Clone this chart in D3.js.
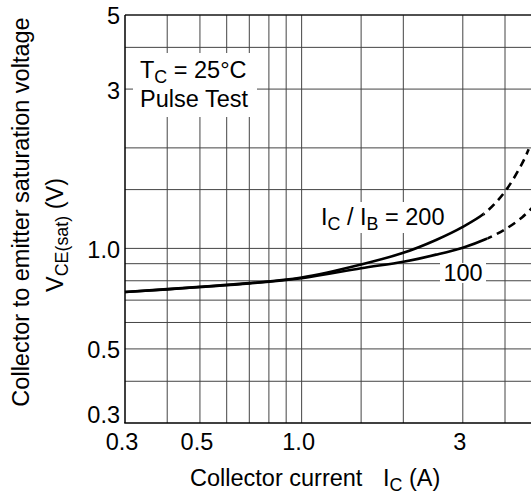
<!DOCTYPE html>
<html><head><meta charset="utf-8">
<script src="https://cdn.jsdelivr.net/npm/d3@7"></script>
<style>
html,body{margin:0;padding:0;background:#fff;overflow:hidden;}
text{font-family:"Liberation Sans",Arial,Helvetica,sans-serif;fill:#000;white-space:pre;}
</style></head>
<body><svg id="c" width="531" height="499"></svg>
<script>
// ---- data ----
const xDomain = [0.3, 5];
const yDomain = [0.3, 5];
const xGrid = [0.4, 0.5, 0.6, 0.7, 0.8, 0.9, 1.0, 1.5, 2, 3, 4, 5];
const yGrid = [0.4, 0.5, 0.6, 0.7, 0.8, 0.9, 1.0, 1.5, 2, 3, 4, 5];
const xTickVals = [0.3, 0.5, 1.0, 3];
const xTickLabels = ["0.3", "0.5", "1.0", "3"];
const yTickVals = [5, 3, 1.0, 0.5, 0.3];
const yTickLabels = ["5", "3", "1.0", "0.5", "0.3"];
// IC/IB = 200 (solid up to splitIC, dashed beyond)
const ic200 = [0.3, 0.4, 0.5, 0.7, 1.0, 1.5, 2.0, 2.5, 3.0, 3.5, 4.0, 4.5, 4.7];
const v200 = [0.74, 0.755, 0.767, 0.787, 0.818, 0.895, 0.97, 1.06, 1.16, 1.28, 1.48, 1.80, 1.98];
// IC/IB = 100
const ic100 = [0.3, 0.4, 0.5, 0.7, 1.0, 1.5, 2.0, 2.5, 3.0, 3.5, 4.0, 4.5, 4.8];
const v100 = [0.74, 0.754, 0.766, 0.785, 0.814, 0.872, 0.912, 0.958, 1.005, 1.065, 1.14, 1.24, 1.32];
const splitIC = [3.45, 3.55];

// ---- scales ----
const L = 125, B = 423, T = 15;
const pxPerDec = 337.8;
const x = d3.scaleLog().domain(xDomain).range([L, L + pxPerDec * Math.log10(xDomain[1] / xDomain[0])]);
const y = d3.scaleLog().domain(yDomain).range([B, T]);

const svg = d3.select("#c");
const defs = svg.append("defs");
const g = svg.append("g");

// grid
g.selectAll(".vg").data(xGrid).enter().append("line")
  .attr("x1", d => x(d)).attr("x2", d => x(d)).attr("y1", y(yDomain[0])).attr("y2", y(yDomain[1]))
  .attr("stroke", "#444").attr("stroke-width", 1);
g.selectAll(".hg").data(yGrid).enter().append("line")
  .attr("x1", x(xDomain[0])).attr("x2", x(xDomain[1])).attr("y1", d => y(d)).attr("y2", d => y(d))
  .attr("stroke", "#444").attr("stroke-width", 1);

const fs = 23.5;
const sfs = fs * 0.76;

// label backgrounds (white boxes that interrupt grid)
function bg(x0, y0, w, h) {
  g.append("rect").attr("x", x0).attr("y", y0).attr("width", w).attr("height", h).attr("fill", "#fff");
}
bg(133, 53, 124, 64);
bg(316, 202, 132, 31);
bg(440, 263, 46, 20);

// axes frame
g.append("line").attr("x1", x(xDomain[0])).attr("x2", x(xDomain[0])).attr("y1", y(yDomain[0])).attr("y2", y(yDomain[1]))
  .attr("stroke", "#000").attr("stroke-width", 1.5);
g.append("line").attr("x1", x(xDomain[0]) - 0.75).attr("x2", x(xDomain[1])).attr("y1", y(yDomain[0])).attr("y2", y(yDomain[0]))
  .attr("stroke", "#000").attr("stroke-width", 1.5);
g.append("line").attr("x1", x(xDomain[0])).attr("x2", x(xDomain[1])).attr("y1", y(yDomain[1])).attr("y2", y(yDomain[1]))
  .attr("stroke", "#000").attr("stroke-width", 1);

// curves: one smooth path, clipped into solid and dashed parts
const line = d3.line().x(d => x(d[0])).y(d => y(d[1])).curve(d3.curveCatmullRom.alpha(0.5));
function curve(id, xs, ys, split) {
  const pts = xs.map((v, i) => [v, ys[i]]);
  const xs0 = x(split);
  defs.append("clipPath").attr("id", id + "s").append("rect")
    .attr("x", 0).attr("y", 0).attr("width", xs0).attr("height", 499);
  defs.append("clipPath").attr("id", id + "d").append("rect")
    .attr("x", xs0).attr("y", 0).attr("width", 600 - xs0).attr("height", 499);
  g.append("path").datum(pts).attr("d", line).attr("clip-path", `url(#${id}s)`)
    .attr("fill", "none").attr("stroke", "#000").attr("stroke-width", 2.6);
  g.append("path").datum(pts).attr("d", line).attr("clip-path", `url(#${id}d)`)
    .attr("fill", "none").attr("stroke", "#000").attr("stroke-width", 2.6)
    .attr("stroke-dasharray", "8,5.5");
}
curve("c200", ic200, v200, splitIC[0]);
curve("c100", ic100, v100, splitIC[1]);

// tick labels
g.selectAll(".xt").data(xTickVals).enter().append("text")
  .attr("x", d => x(d) - 3).attr("y", 450).attr("text-anchor", "middle").attr("font-size", fs)
  .text((d, i) => xTickLabels[i]);
g.selectAll(".yt").data(yTickVals).enter().append("text")
  .attr("x", 120).attr("y", (d, i) => y(d) + (i === yTickVals.length - 1 ? -8 : 1))
  .attr("dy", "0.36em").attr("text-anchor", "end").attr("font-size", fs)
  .text((d, i) => yTickLabels[i]);

// annotations
let t1 = g.append("text").attr("x", 140).attr("y", 78).attr("font-size", fs);
t1.append("tspan").text("T");
t1.append("tspan").attr("font-size", sfs).attr("dy", 5).text("C");
t1.append("tspan").attr("dy", -5).text(" = 25\u00B0C");
g.append("text").attr("x", 140).attr("y", 107).attr("font-size", fs).text("Pulse Test");

let t2 = g.append("text").attr("x", 321).attr("y", 225).attr("font-size", fs);
t2.append("tspan").text("I");
t2.append("tspan").attr("font-size", sfs).attr("dy", 5).text("C");
t2.append("tspan").attr("dy", -5).text(" / I");
t2.append("tspan").attr("font-size", sfs).attr("dy", 5).text("B");
t2.append("tspan").attr("dy", -5).text(" = 200");

g.append("text").attr("x", 463).attr("y", 281).attr("text-anchor", "middle").attr("font-size", fs).text("100");

// axis titles
let xt = g.append("text").attr("x", 190).attr("y", 486).attr("font-size", fs);
xt.append("tspan").text("Collector current");
xt.append("tspan").attr("x", 383).text("I");
xt.append("tspan").attr("font-size", sfs).attr("dy", 5).text("C");
xt.append("tspan").attr("dy", -5).text(" (A)");

g.append("text").attr("transform", "translate(29,212) rotate(-90)").attr("text-anchor", "middle")
  .attr("font-size", fs).text("Collector to emitter saturation voltage");
let yt2 = g.append("text").attr("transform", "translate(63,235) rotate(-90)").attr("text-anchor", "middle")
  .attr("font-size", fs);
yt2.append("tspan").text("V");
yt2.append("tspan").attr("font-size", sfs).attr("dy", 5).text("CE(sat)");
yt2.append("tspan").attr("dy", -5).text(" (V)");
</script></body></html>
